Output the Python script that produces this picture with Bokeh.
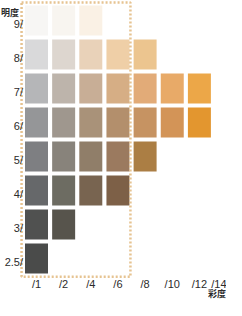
from bokeh.plotting import figure
from bokeh.models import Range1d, ColumnDataSource
from bokeh.core.properties import value
from bokeh.embed import file_html
from bokeh.resources import INLINE

# ---- data ----
value_labels = ["9/", "8/", "7/", "6/", "5/", "4/", "3/", "2.5/"]
chroma_labels = ["/1", "/2", "/4", "/6", "/8", "/10", "/12", "/14"]
value_title = "明度"
chroma_title = "彩度"

row_9 = ["#f7f6f4", "#f8f5f0", "#faf1e5"]
row_8 = ["#d9d9da", "#ddd6cf", "#e9d2b9", "#efcfa7", "#ecc58f"]
row_7 = ["#b5b6b8", "#bdb4ab", "#c8ae96", "#d6ae85", "#e2ab78", "#e8aa68", "#eca748"]
row_6 = ["#959698", "#9f978e", "#a99279", "#b38f6c", "#c69362", "#d39457", "#e3962f"]
row_5 = ["#7e7f82", "#88837b", "#907e69", "#9b7a5f", "#ab7e44"]
row_4 = ["#66686a", "#6d6c62", "#786450", "#7d6047"]
row_3 = ["#505150", "#57544c"]
row_25 = ["#4a4b4a"]
rows = [row_9, row_8, row_7, row_6, row_5, row_4, row_3, row_25]

# ---- build cell table ----
cx, cy, cc = [], [], []
for j, row in enumerate(rows):
    for i, c in enumerate(row):
        cx.append(i)
        cy.append(j)
        cc.append(c)
cells = ColumnDataSource(dict(x=cx, y=cy, color=cc))

COL = 27.15   # px per column
ROW = 34.0    # px per row
W, H = 226, 300
x0 = -36 / COL          # first column centre 36px from the left edge
y0 = -20 / ROW          # first row centre 20px from the top edge

def px_y(page_y):
    return y0 + (page_y - 8) / ROW

def px_x(page_x):
    return x0 + (page_x - 8) / COL

p = figure(width=W, height=H, output_backend="svg", toolbar_location=None,
           x_range=Range1d(x0, x0 + W / COL), y_range=Range1d(y0 + H / ROW, y0),
           x_axis_location=None, y_axis_location=None, min_border=0,
           background_fill_color="white", border_fill_color="white")
p.grid.visible = False
p.outline_line_color = None

p.rect(x="x", y="y", width=23 / COL, height=30 / ROW, source=cells,
       fill_color="color", line_color=None)

# dotted frame around chroma /1 .. /6
last = chroma_labels.index("/6")
nrow = len(value_labels)
p.quad(left=-0.55, right=last + 0.46, top=-0.53, bottom=nrow - 1 + 0.54,
       fill_color=None, line_color="#e2b87e", line_width=2.5, line_dash="2 2", line_alpha=0.85)

digits = value("Liberation Sans")
cjk = value("Noto Sans CJK JP")
# value (row) labels
p.text(x=[px_x(30.5)] * nrow, y=list(range(nrow)), text=value_labels,
       text_align="right", text_baseline="middle", y_offset=3,
       text_font=digits, text_font_size="11px", text_color="#2b2b2b")
# chroma (column) labels
ybot = px_y(285.5)
n = len(chroma_labels)
p.text(x=list(range(n - 1)), y=[ybot] * (n - 1), text=chroma_labels[:-1],
       text_align="center", text_baseline="top",
       text_font=digits, text_font_size="11px", text_color="#2b2b2b")
p.text(x=[n - 1], y=[ybot], text=chroma_labels[-1:],
       text_align="right", text_baseline="top",
       text_font=digits, text_font_size="11px", text_color="#2b2b2b")
# axis titles
p.text(x=[px_x(8.5)], y=[px_y(19.5)], text=[value_title], text_align="left", text_baseline="middle",
       text_font=cjk, text_font_size="9px", text_font_style="bold", text_color="#2b2b2b")
p.text(x=[px_x(233.5)], y=[px_y(307.5)], text=[chroma_title], text_align="right", text_baseline="bottom",
       text_font=cjk, text_font_size="9px", text_font_style="bold", text_color="#2b2b2b")

open("out.html", "w").write(file_html(p, INLINE))
